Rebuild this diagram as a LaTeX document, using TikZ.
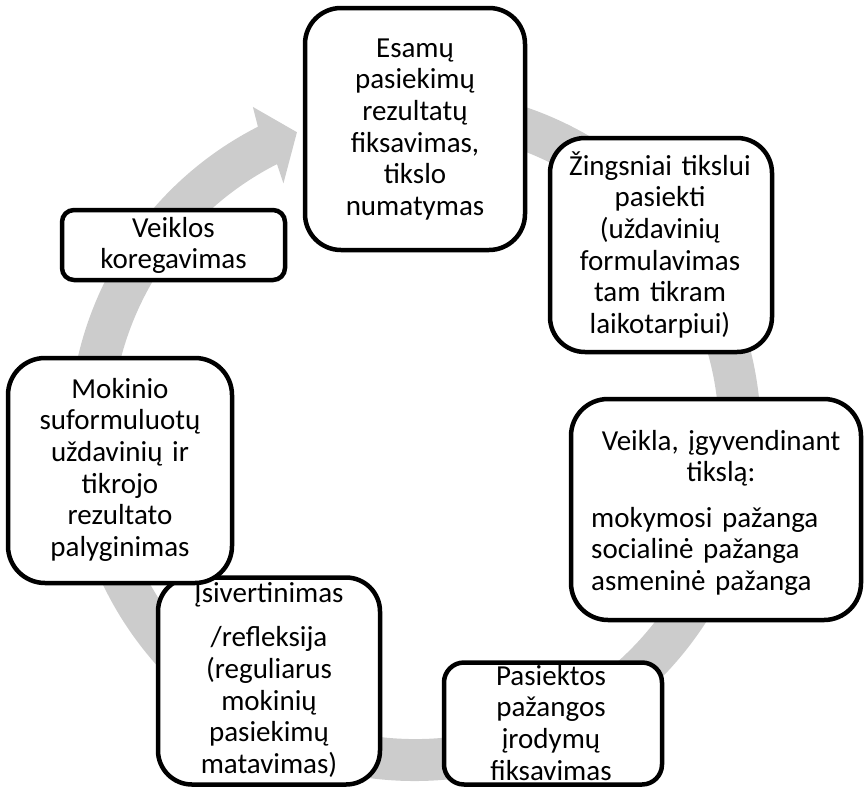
\documentclass[tikz,border=0pt]{standalone}
\usepackage{fontspec}
\setmainfont{Carlito}
\usetikzlibrary{calc}
\definecolor{bandgray}{RGB}{204,204,204}
\begin{document}
\begin{tikzpicture}[x=1pt,y=1pt,
  stepbox/.style={draw=black, line width=4.5pt, fill=white, rectangle, inner sep=0pt},
  txt/.style={inner sep=0pt, align=center, text width=#1, font=\fontsize{29}{31.7}\selectfont, anchor=base},
  txt/.default=215pt]
\useasboundingbox (0,0) rectangle (864,-787);
\coordinate (C) at (415,-435);
% circular arrow band
\fill[bandgray] ($(C)+(95:346)$) arc[start angle=95, end angle=-243, radius=346]
  -- ($(C)+(-243.7:366)$) -- ($(C)+(-248.7:325)$) -- ($(C)+(-242.4:284)$)
  -- ($(C)+(-243:304)$) arc[start angle=-243, end angle=95, radius=304] -- cycle;
% boxes
\node[stepbox, minimum width=220pt, minimum height=242pt, rounded corners=36pt] (b1) at (415,-129) {};
\node[stepbox, minimum width=222pt, minimum height=214pt, rounded corners=35pt] (b2) at (661,-245) {};
\node[stepbox, minimum width=290pt, minimum height=221pt, rounded corners=37pt] (b3) at (716,-509.5) {};
\node[stepbox, minimum width=218pt, minimum height=122pt, rounded corners=20pt] (b4) at (553,-723.5) {};
\node[stepbox, minimum width=222pt, minimum height=207pt, rounded corners=34pt] (b5) at (269,-681) {};
\node[stepbox, minimum width=224pt, minimum height=225pt, rounded corners=37pt] (b6) at (120,-470.5) {};
\node[stepbox, minimum width=223pt, minimum height=70pt, rounded corners=12pt] (b7) at (173.5,-245) {};
% texts
\node[txt] (t1) at (415,-57) {Esamų\\pasiekimų\\rezultatų\\fiksavimas,\\tikslo\\numatymas};
\node[txt] (t2) at (660,-175) {Žingsniai tikslui\\pasiekti\\(uždavinių\\formulavimas\\tam tikram\\laikotarpiui)};
\node[txt=280pt] (t3a) at (721,-450) {Veikla, įgyvendinant\\tikslą:};
\node[txt=260pt, align=left, anchor=base west] (t3b) at (591,-527) {mokymosi pažanga\\socialinė pažanga\\asmeninė pažanga};
\node[txt] (t4) at (551,-685) {Pasiektos\\pažangos\\įrodymų\\fiksavimas};
\node[txt] (t5) at (269,-602) {Įsivertinimas\\[13pt]/refleksija\\(reguliarus\\mokinių\\pasiekimų\\matavimas)};
\node[txt] (t6) at (120,-398) {Mokinio\\suformuluotų\\uždavinių ir\\tikrojo\\rezultato\\palyginimas};
\node[txt] (t7) at (173.5,-237) {Veiklos\\koregavimas};
\end{tikzpicture}
\end{document}
